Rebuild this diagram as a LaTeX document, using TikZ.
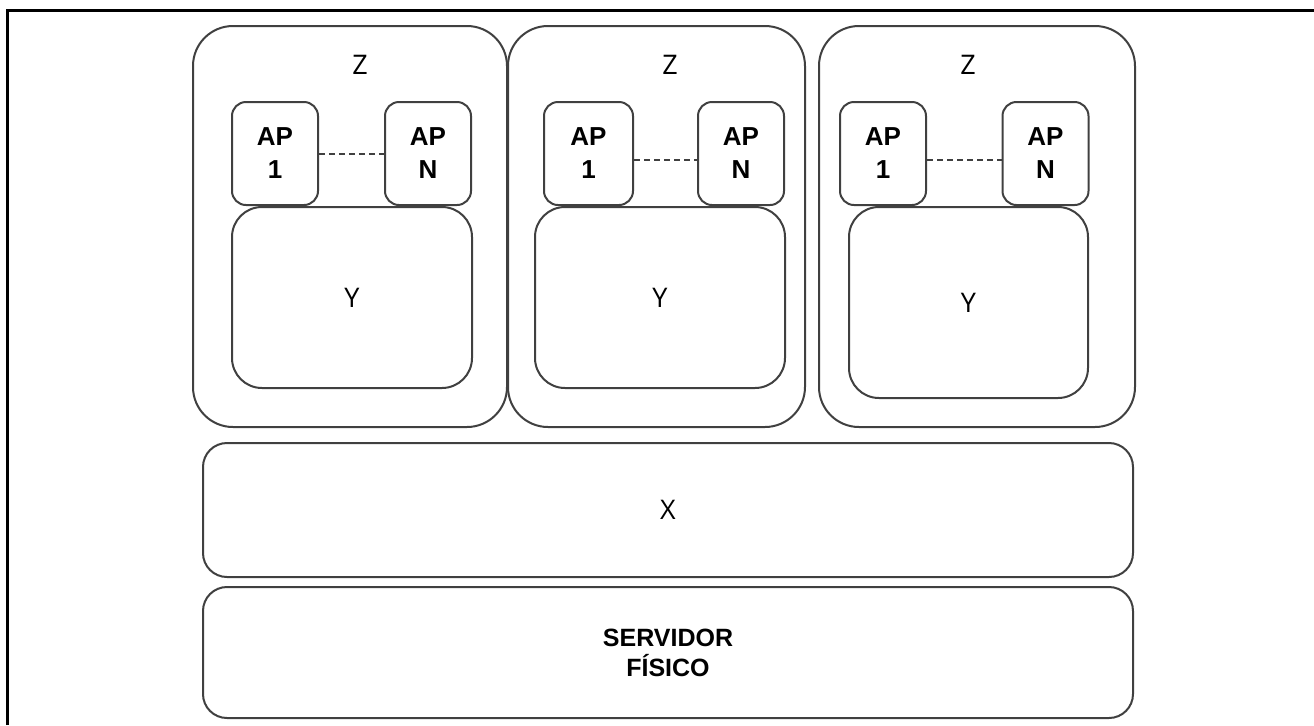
\documentclass[tikz,border=0pt]{standalone}
\usepackage{fontspec}
\newfontfamily\labelfont{Open Sans}
\newfontfamily\apfont{Liberation Sans}
\usetikzlibrary{positioning}
\tikzset{
  every picture/.style={line width=1pt},
  frameline/.style={line width=1.5pt, black},
  zbox/.style={draw=black!75, rounded corners=20pt, minimum height=200.5pt},
  apbox/.style={draw=black!75, rounded corners=7pt, minimum width=43pt, minimum height=51.5pt,
                align=center, font=\apfont\bfseries\fontsize{13}{16.5}\selectfont},
  ybox/.style={draw=black!75, rounded corners=15pt, font=\labelfont\fontsize{13.5}{16}\selectfont},
  hostbox/.style={draw=black!75, rounded corners=12pt, minimum width=465pt},
  zlabel/.style={font=\labelfont\fontsize{13.5}{16}\selectfont},
  aplink/.style={dashed, black!75, dash pattern=on 3pt off 2pt},
}

\begin{document}
\begin{tikzpicture}[x=0.5pt, y=-0.5pt]
\useasboundingbox (0,0) rectangle (1314,725);
\draw[frameline] (7,725) -- (7,10) -- (1314,10);

% three Z containers
\node[zbox, minimum width=157pt]   (z1) at (350,226.5) {};
\node[zbox, minimum width=148.5pt] (z2) at (656.5,226.5) {};
\node[zbox, minimum width=158pt]   (z3) at (977,226.5) {};
\node[zlabel] (z1lab) at (360,65) {Z};
\node[zlabel] (z2lab) at (670,65) {Z};
\node[zlabel] (z3lab) at (968,65) {Z};

% access points
\node[apbox] (ap1a) at (275,153.5) {AP\\1};
\node[apbox] (apna) at (428,153.5) {AP\\N};
\node[apbox, minimum width=44.5pt] (ap1b) at (588.5,153.5) {AP\\1};
\node[apbox] (apnb) at (741,153.5) {AP\\N};
\node[apbox] (ap1c) at (883,153.5) {AP\\1};
\node[apbox] (apnc) at (1045.5,153.5) {AP\\N};
\draw[aplink] (ap1a) -- (apna);
\draw[aplink] (ap1b.east |- 0,160) -- (apnb.west |- 0,160);
\draw[aplink] (ap1c.east |- 0,160) -- (apnc.west |- 0,160);

% Y boxes
\node[ybox, minimum width=120pt, minimum height=90.5pt]   (y1) at (352,297.5) {Y};
\node[ybox, minimum width=125pt, minimum height=90.5pt]   (y2) at (660,297.5) {Y};
\node[ybox, minimum width=119.5pt, minimum height=95.5pt] (y3) at (968.5,302.5) {Y};

% X and physical server
\node[hostbox, minimum height=67pt, font=\labelfont\fontsize{13.5}{16}\selectfont]
  (xlayer) at (668,510) {X};
\node[hostbox, minimum height=65.5pt, align=center,
      font=\apfont\bfseries\fontsize{12.5}{15}\selectfont]
  (server) at (668,652.5) {SERVIDOR\\FÍSICO};
\end{tikzpicture}
\end{document}
